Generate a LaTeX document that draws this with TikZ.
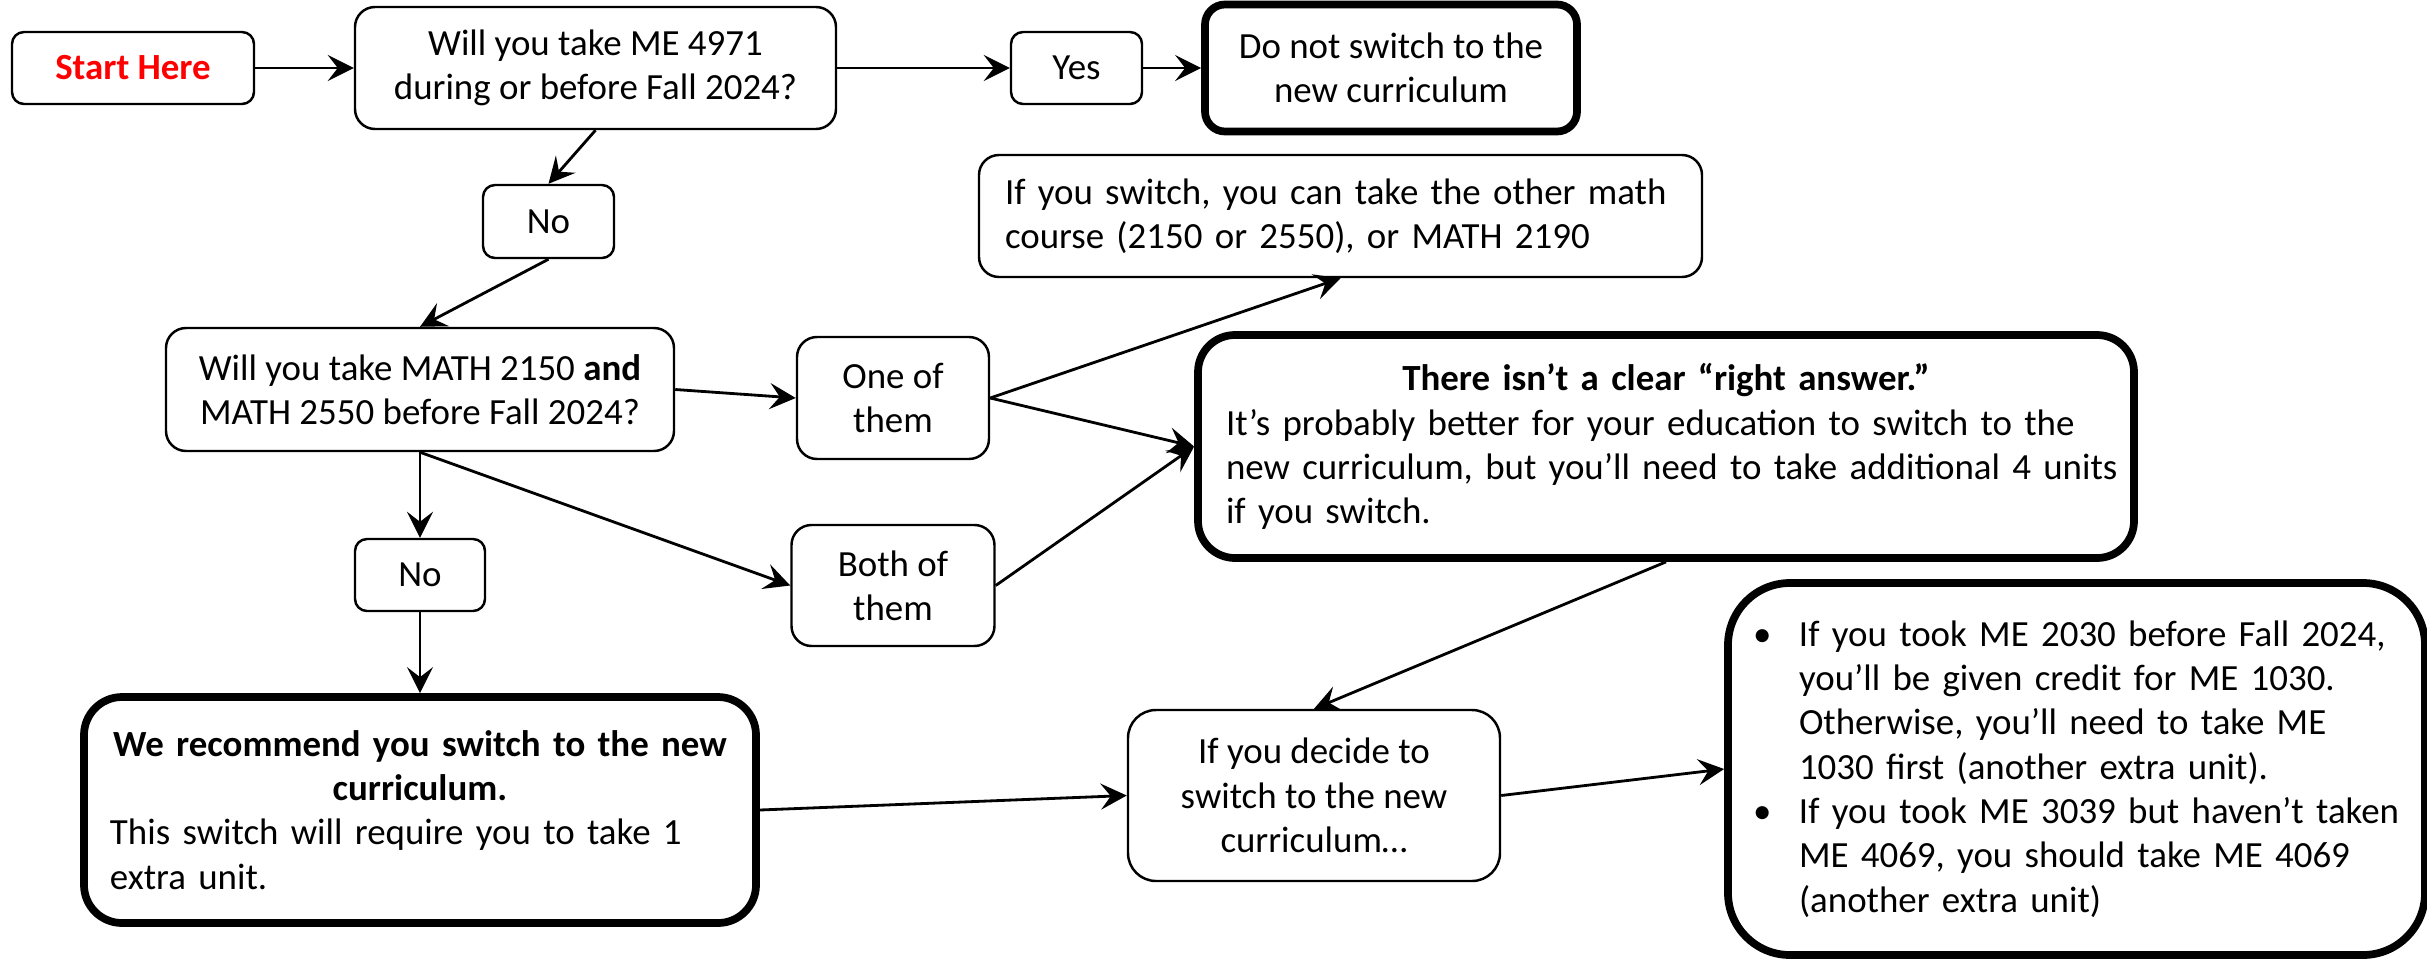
\documentclass[tikz,border=0pt]{standalone}
\usepackage{fontspec}
\setmainfont{Carlito}
\usepackage{xcolor}
\usetikzlibrary{arrows.meta,positioning}

\begin{document}
\begin{tikzpicture}[node distance=2cm, font=\fontsize{10.5pt}{12.6pt}\selectfont]
\tikzstyle{box} = [rectangle, draw, line width=0.7pt, rounded corners=0.2cm, align=center, inner sep=0.1cm]
\tikzstyle{endbox} = [box, line width=2.2pt]
\tikzstyle{arrow} = [line width=0.8pt, -{Stealth[length=2.6mm, width=2.6mm, inset=1mm]}]

\useasboundingbox (0,0) rectangle (24.27,-9.58);

\node (start) [box, rounded corners=0.12cm, minimum width=2.42cm, minimum height=0.72cm] at (1.33,-0.68) {\textcolor{red}{\textbf{Start Here}}};
\node (q1) [box, minimum width=4.81cm, minimum height=1.22cm, right of=start, xshift=2.625cm] {Will you take ME 4971\\during or before Fall 2024?};
\node (yes) [box, rounded corners=0.12cm, minimum width=1.31cm, minimum height=0.72cm, right of=q1, xshift=2.81cm] {Yes};
\node (noswitch) [endbox, minimum width=3.72cm, minimum height=1.27cm, right of=yes, xshift=1.145cm] {Do not switch to the\\new curriculum};
\node (no1) [box, rounded corners=0.12cm, minimum width=1.31cm, minimum height=0.73cm, below of=q1, xshift=-0.47cm, yshift=0.465cm] {No};
\node (q2) [box, minimum width=5.08cm, minimum height=1.23cm, below of=no1, xshift=-1.285cm, yshift=0.32cm] {Will you take MATH 2150 \textbf{and}\\MATH 2550 before Fall 2024?};
\node (no2) [box, rounded corners=0.12cm, minimum width=1.30cm, minimum height=0.72cm, below of=q2, yshift=0.145cm] {No};
\node (rec) [endbox, rounded corners=0.38cm, minimum width=6.72cm, minimum height=2.26cm, text width=6.2cm, inner xsep=0.26cm, align=left, below of=no2, yshift=-0.35cm] {{\centering\bfseries We recommend you switch to the new\\curriculum.\par}This switch will require you to take 1\\extra unit.};
\node (one) [box, minimum width=1.92cm, minimum height=1.22cm, right of=q2, xshift=2.73cm, yshift=-0.085cm] {One of\\them};
\node (both) [box, minimum width=2.03cm, minimum height=1.21cm, below of=one, yshift=0.125cm] {Both of\\them};
\node (ifswitch) [box, minimum width=7.23cm, minimum height=1.22cm, text width=6.71cm, inner xsep=0.26cm, align=left, right of=one, xshift=2.475cm, yshift=1.82cm] {If you switch, you can take the other math\\course (2150 or 2550), or MATH 2190};
\node (clear) [endbox, rounded corners=0.37cm, minimum width=9.36cm, minimum height=2.23cm, text width=8.8cm, inner xsep=0.28cm, align=left, right of=one, xshift=5.73cm, yshift=-0.485cm] {{\centering\textbf{There isn’t a clear “right answer.”}\par}\mbox{It’s probably better for your education to switch to the}\\\mbox{new curriculum, but you’ll need to take additional 4 units}\\if you switch.};
\node (decide) [box, rounded corners=0.28cm, minimum width=3.72cm, minimum height=1.71cm, below of=clear, xshift=-3.52cm, yshift=-1.49cm] {If you decide to\\switch to the new\\curriculum…};
\node (bullets) [endbox, rounded corners=0.62cm, minimum width=6.97cm, minimum height=3.72cm, text width=6.47cm, inner xsep=0.25cm, align=left, right of=decide, xshift=5.625cm, yshift=0.265cm] {\hangindent=0.46cm\hangafter=1\noindent\makebox[0.46cm][l]{•}If you took ME 2030 before Fall 2024,\newline you’ll be given credit for ME 1030.\newline Otherwise, you’ll need to take ME\newline 1030 first (another extra unit).\par
\hangindent=0.46cm\hangafter=1\noindent\makebox[0.46cm][l]{•}If you took ME 3039 but haven’t taken\newline ME 4069, you should take ME 4069\newline (another extra unit)\par};

\draw [arrow] (start) -- (q1);
\draw [arrow] (q1) -- (yes);
\draw [arrow] (yes) -- (noswitch);
\draw [arrow] (q1.south) -- (no1.north);
\draw [arrow] (no1.south) -- (q2.north);
\draw [arrow] (q2.east) -- (one.west);
\draw [arrow, line width=0.5pt] (q2.south) -- (no2.north);
\draw [arrow] (q2.south) -- (both.west);
\draw [arrow, line width=0.5pt] (no2) -- (rec);
\draw [arrow] (one.east) -- (ifswitch.south);
\draw [arrow] (one.east) -- (clear.west);
\draw [arrow] (both.east) -- (clear.west);
\draw [arrow] (clear.south) -- (decide.north);
\draw [arrow] (rec.east) -- (decide.west);
\draw [arrow] (decide.east) -- (bullets.west);

\end{tikzpicture}
\end{document}
